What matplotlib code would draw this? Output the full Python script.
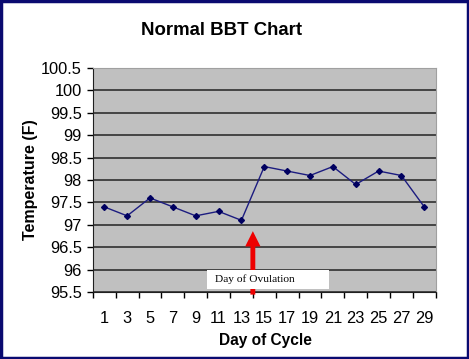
import numpy as np
import matplotlib.pyplot as plt
from matplotlib.patches import Rectangle

# BBT readings, every other day of the cycle
days = [1, 3, 5, 7, 9, 11, 13, 15, 17, 19, 21, 23, 25, 27, 29]
temps = [97.4, 97.2, 97.6, 97.4, 97.2, 97.3, 97.1,
         98.3, 98.2, 98.1, 98.3, 97.9, 98.2, 98.1, 97.4]
y_ticks = np.arange(95.5, 100.51, 0.5)
y_labels = ["95.5", "96", "96.5", "97", "97.5", "98", "98.5",
            "99", "99.5", "100", "100.5"]

plt.rcParams['font.family'] = ['Liberation Sans', 'DejaVu Sans']

fig = plt.figure(figsize=(4.69, 3.59), dpi=100)
ax = fig.add_axes([0.198, 0.1866, 0.731, 0.624])
ax.set_facecolor('#c0c0c0')

pos = np.arange(len(days))
ax.plot(pos, temps, color='#1c1c80', lw=1, marker='D', ms=3,
        mfc='#000060', mec='#000060', zorder=4)

ax.set_xlim(-0.5, len(days) - 0.5)
ax.set_ylim(95.5, 100.5)
ax.set_yticks(y_ticks)
ax.set_yticklabels(y_labels, fontsize=11.8)
ax.set_xticks(pos)
ax.set_xticklabels([str(d) for d in days], fontsize=11.8)
ax.set_xticks(np.arange(-0.5, len(days), 1), minor=True)
ax.tick_params(axis='x', which='major', length=0, pad=14)
ax.tick_params(axis='x', which='minor', length=4, width=1)
ax.tick_params(axis='y', length=4, width=1, pad=4)
ax.grid(axis='y', color='#3a3a3a', lw=1.3)
ax.set_axisbelow(True)
for s in ['top', 'right']:
    ax.spines[s].set_color('#a0a0a0')
for s in ['left', 'bottom']:
    ax.spines[s].set_color('#202020')

# ovulation marker
ov = 6.5
ax.annotate('', xy=(ov, 96.92), xytext=(ov, 95.38),
            xycoords='data', textcoords='data', annotation_clip=False,
            arrowprops=dict(arrowstyle='simple,head_length=1.1,head_width=1.1,tail_width=0.35',
                            color='#ee0000', lw=0), zorder=5)
ax.add_patch(Rectangle((4.48, 95.57), 5.37, 0.42, facecolor='white',
                       edgecolor='none', zorder=6))
ax.text(4.86, 95.78, 'Day of Ovulation', family=['Liberation Serif'],
        fontsize=8.2, va='center', ha='left', zorder=7)

fig.text(0.473, 0.915, 'Normal BBT Chart', ha='center', va='center',
         fontsize=13.4, fontweight='bold')
fig.text(0.064, 0.5, 'Temperature (F)', ha='center', va='center',
         rotation=90, fontsize=11.5, fontweight='bold')
fig.text(0.567, 0.052, 'Day of Cycle', ha='center', va='center',
         fontsize=11.2, fontweight='bold')

fig.patches.append(Rectangle((0.003, 0.004), 0.994, 0.992, transform=fig.transFigure,
                             fill=False, edgecolor='#0a0a70', lw=2.5))

fig.savefig('out.png', dpi=100)
